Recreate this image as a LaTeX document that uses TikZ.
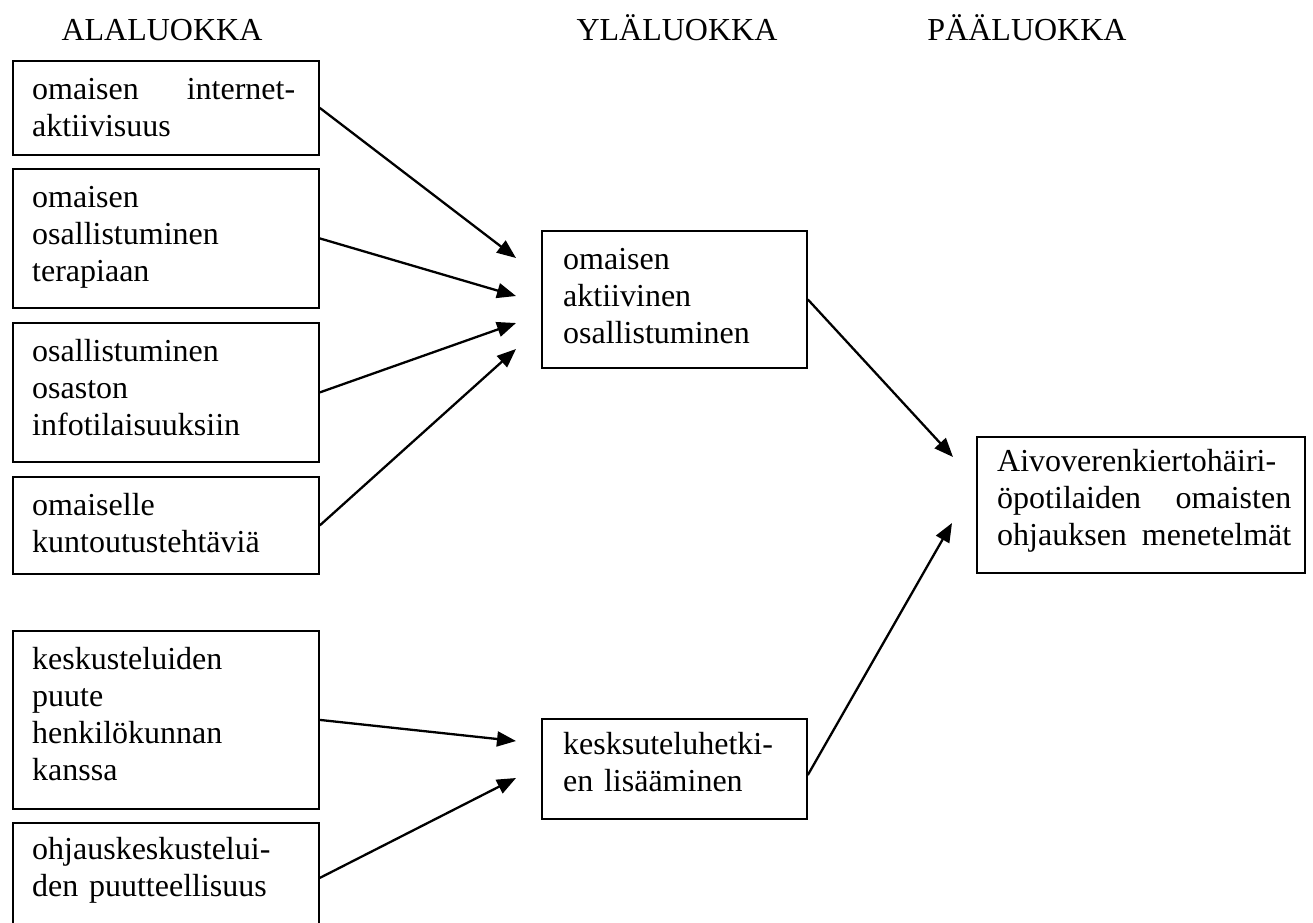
\documentclass[tikz,border=0pt]{standalone}
\usepackage{fontspec}
\setmainfont{Liberation Serif}
\usetikzlibrary{arrows.meta,calc}
\begin{document}
\begin{tikzpicture}[x=1pt,y=-1pt,
  box/.style={draw, line width=1.8pt, inner sep=0pt, anchor=north west},
  txt/.style={inner sep=0pt, anchor=north west, font=\fontsize{32}{37}\selectfont, align=left},
  head/.style={inner sep=0pt, anchor=base, font=\fontsize{32}{37}\selectfont},
  arr/.style={line width=2.3pt, -{Triangle[length=19pt,width=15pt]}}]
\useasboundingbox (0,0) rectangle (1313,922);
% headers
\node[head] (h1) at (162,40) {ALALUOKKA};
\node[head] (h2) at (677,40) {YLÄLUOKKA};
\node[head] (h3) at (1027,40) {PÄÄLUOKKA};
% left boxes
\node[box, minimum width=306pt, minimum height=94pt] (b1) at (12,60) {};
\node[txt, text width=263pt] (t1) at ($(b1.north west)+(20,13)$) {\strut omaisen\hfill internet-\\aktiivisuus};
\node[box, minimum width=306pt, minimum height=139pt] (b2) at (12,168) {};
\node[txt, text width=263pt] (t2) at ($(b2.north west)+(20,13)$) {\strut omaisen\\osallistuminen\\terapiaan};
\node[box, minimum width=306pt, minimum height=139pt] (b3) at (12,322) {};
\node[txt, text width=263pt] (t3) at ($(b3.north west)+(20,13)$) {\strut osallistuminen\\osaston\\infotilaisuuksiin};
\node[box, minimum width=306pt, minimum height=97pt] (b4) at (12,476) {};
\node[txt, text width=263pt] (t4) at ($(b4.north west)+(20,13)$) {\strut omaiselle\\kuntoutustehtäviä};
\node[box, minimum width=306pt, minimum height=178pt] (b5) at (12,630) {};
\node[txt, text width=263pt] (t5) at ($(b5.north west)+(20,13)$) {\strut keskusteluiden\\puute\\henkilökunnan\\kanssa};
\node[box, minimum width=306pt, minimum height=110pt] (b6) at (12,822) {};
\node[txt, text width=263pt] (t6) at ($(b6.north west)+(20,11)$) {\strut ohjauskeskustelui-\\den puutteellisuus};
% middle boxes
\node[box, minimum width=265pt, minimum height=137pt] (m1) at (541,230) {};
\node[txt, text width=230pt] (tm1) at ($(m1.north west)+(22,13)$) {\strut omaisen\\aktiivinen\\osallistuminen};
\node[box, minimum width=265pt, minimum height=100pt] (m2) at (541,718) {};
\node[txt, text width=230pt] (tm2) at ($(m2.north west)+(22,10)$) {\strut kesksuteluhetki-\\en lisääminen};
% right box
\node[box, minimum width=328pt, minimum height=136pt] (r) at (976,436) {};
\node[txt, text width=294pt] (tr) at ($(r.north west)+(21,9)$) {\strut Aivoverenkiertohäiri-\\öpotilaiden\hfill omaisten\\ohjauksen\hfill menetelmät};
% arrow tips
\coordinate (p1) at (516,258);
\coordinate (p2) at (516,296);
\coordinate (p3) at (516,323);
\coordinate (p4) at (516,349);
\coordinate (p5) at (516,741);
\coordinate (p6) at (516,778);
\coordinate (q1) at (953,457);
\coordinate (q2) at (952,523);
\coordinate (s2) at ($(m2.north east)+(0,57)$);
% arrows
\draw[arr] (b1.east) -- (p1);
\draw[arr] (b2.east) -- (p2);
\draw[arr] (b3.east) -- (p3);
\draw[arr] (b4.east) -- (p4);
\draw[arr] (b5.east) -- (p5);
\draw[arr] (b6.east) -- (p6);
\draw[arr] (m1.east) -- (q1);
\draw[arr] (s2) -- (q2);
\end{tikzpicture}
\end{document}
